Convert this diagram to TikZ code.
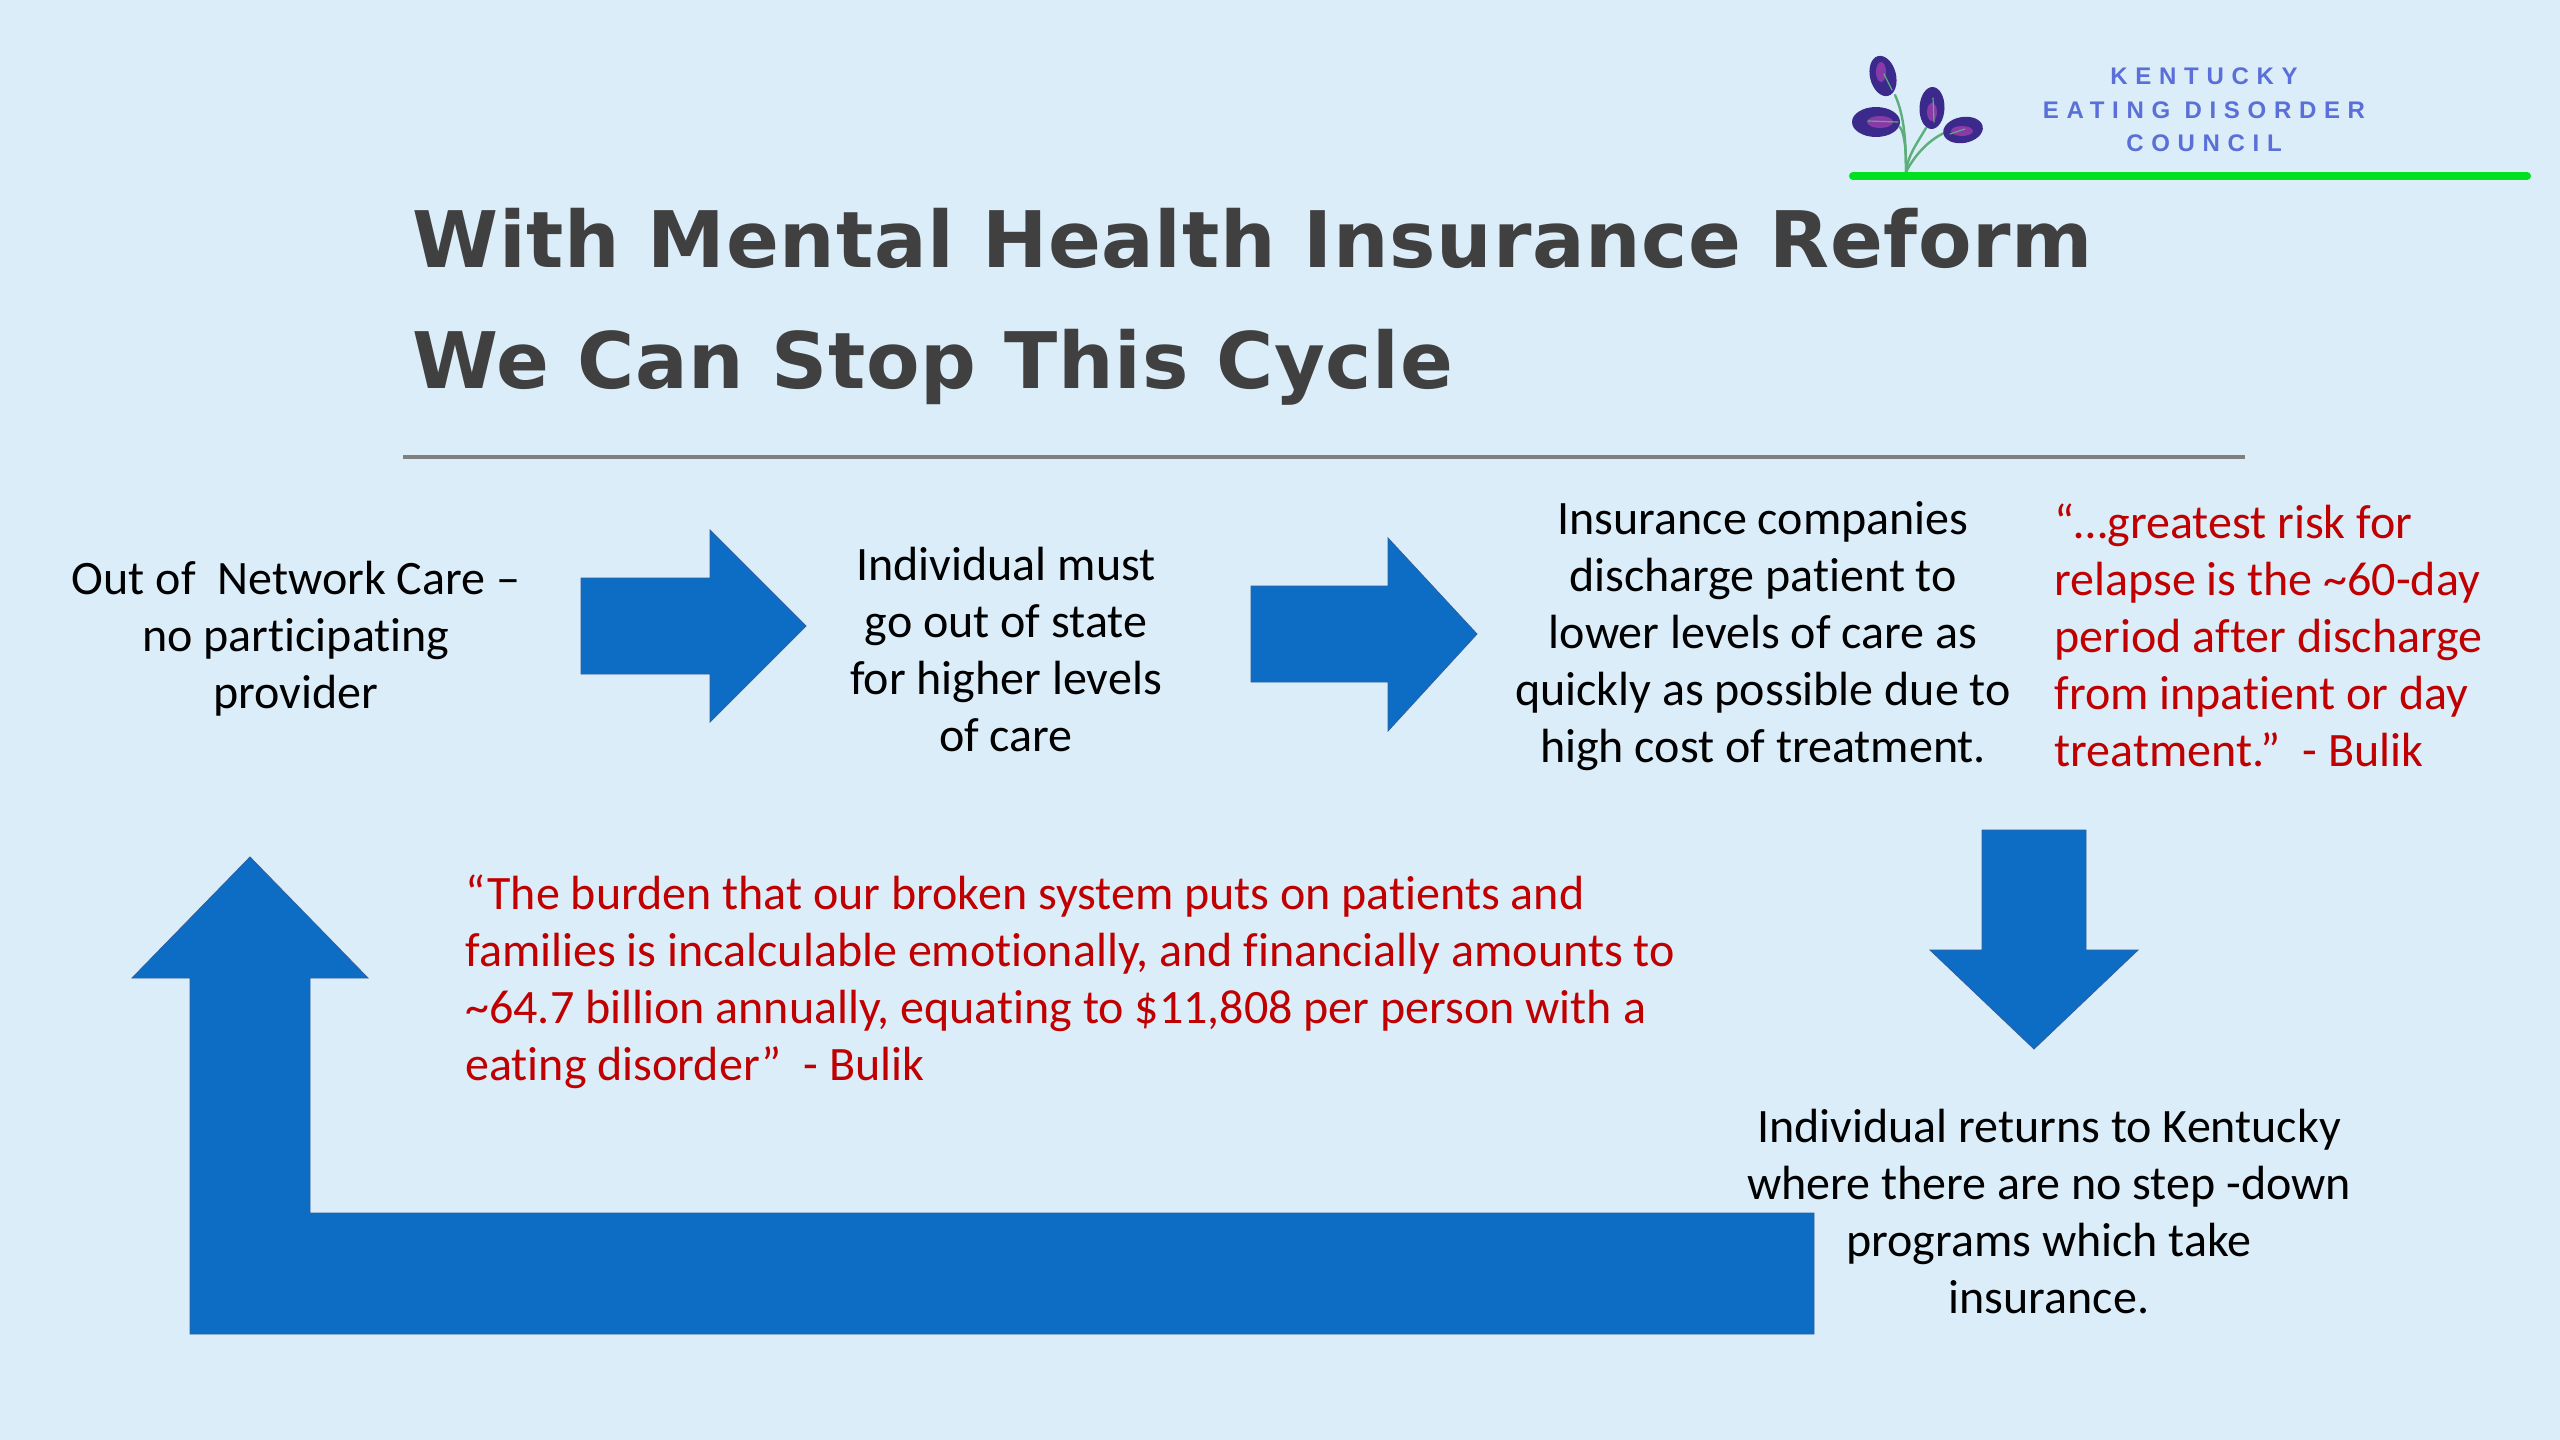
\documentclass[tikz,border=0pt]{standalone}
\usepackage{fontspec}
\setmainfont[Ligatures=NoCommon]{Carlito}
\newfontfamily\titlefont[LetterSpace=0.9]{DejaVu Sans}
\newfontfamily\logofont[LetterSpace=32]{Liberation Sans}
\definecolor{bgc}{HTML}{DBEDF8}
\definecolor{arrowc}{HTML}{0D6DC4}
\definecolor{arrowe}{HTML}{2F5F9E}
\definecolor{quotec}{HTML}{C00000}
\definecolor{titlec}{HTML}{404040}
\definecolor{rulec}{HTML}{7F7F7F}
\definecolor{logoc}{HTML}{5B6FD8}
\definecolor{leafc}{HTML}{3B2A8C}
\definecolor{leafm}{HTML}{8A3AA8}
\definecolor{stemc}{HTML}{5CAF7A}
\definecolor{groundc}{HTML}{00E020}
\tikzset{x=0.5pt,y=-0.5pt,
 bodytext/.style={align=center,font=\fontsize{24}{28.5}\selectfont,text=black,inner sep=0},
 quotetext/.style={align=left,font=\fontsize{24}{28.5}\selectfont,text=quotec,inner sep=0},
 titletext/.style={anchor=base west,font=\titlefont\bfseries\fontsize{39}{39}\selectfont,text=titlec,inner sep=0},
 logotext/.style={font=\logofont\bfseries\fontsize{12}{12}\selectfont,text=logoc,inner sep=0},
 blockarrow/.style={fill=arrowc,draw=arrowe,line width=0.4pt},
 leaf/.style={fill=leafc,draw=none},
 leafmark/.style={fill=leafm,draw=none},
 vein/.style={draw=stemc,line width=0.6pt,line cap=round},
 stem/.style={draw=stemc,line width=1.2pt,line cap=round}}
\begin{document}
\begin{tikzpicture}
\useasboundingbox (0,0) rectangle (2560,1440);
\fill[bgc] (0,0) rectangle (2560,1440);
% logo
\coordinate (root) at (1906,172);
\draw[stem] (root) .. controls (1906,140) and (1904,115) .. (1895,95);
\draw[stem] (root) .. controls (1906,150) and (1905,135) .. (1900,127);
\draw[stem] (root) .. controls (1908,155) and (1916,145) .. (1926,128);
\draw[stem] (root) .. controls (1912,160) and (1925,142) .. (1944,133);
\fill[leaf,rotate around={14:(1883,76)}] (1883,76) ellipse [x radius=13,y radius=20.5];
\fill[leaf,rotate around={-2:(1932,108)}] (1932,108) ellipse [x radius=12.5,y radius=21];
\fill[leaf] (1876,122) ellipse [x radius=24,y radius=15];
\fill[leaf,rotate around={10:(1963,130)}] (1963,130) ellipse [x radius=20,y radius=13];
\fill[leafmark] (1881,72) ellipse [x radius=5,y radius=10];
\fill[leafmark] (1932,112) ellipse [x radius=5,y radius=9];
\fill[leafmark] (1880,122) ellipse [x radius=13,y radius=6];
\fill[leafmark] (1962,131) ellipse [x radius=11,y radius=5];
\draw[vein] (1892,90) -- (1884,74);
\draw[vein] (1934,122) -- (1933,98);
\draw[vein] (1898,122) -- (1868,121);
\draw[vein] (1950,134) -- (1965,129);
\draw[groundc,line width=4pt,line cap=round] (1853,176) -- (2527,176);
\node[logotext] (logoa) at (2204,76) {KENTUCKY};
\node[logotext] (logob) at (2204,110) {EATING DISORDER};
\node[logotext] (logoc) at (2204,143) {COUNCIL};
% title
\node[titletext] (titlea) at (412,267) {With Mental Health Insurance Reform};
\node[titletext] (titleb) at (412,388) {We Can Stop This Cycle};
\draw[rulec,line width=2pt] (403,457) -- (2245,457);
% arrows
\fill[blockarrow] (581,578) -- (710,578) -- (710,530) -- (806,626) -- (710,722) -- (710,674) -- (581,674) -- cycle;
\fill[blockarrow] (1251,586) -- (1388,586) -- (1388,538) -- (1477,634) -- (1388,731) -- (1388,682) -- (1251,682) -- cycle;
\fill[blockarrow] (1982,830) -- (2086,830) -- (2086,950) -- (2138,950) -- (2034,1049) -- (1930,950) -- (1982,950) -- cycle;
\fill[blockarrow] (1814,1213) -- (310,1213) -- (310,978) -- (368,978) -- (250,857) -- (132,978) -- (190,978) -- (190,1334) -- (1814,1334) -- cycle;
% texts
\node[bodytext] (outnet) at (296,639) {Out of\ \ Network Care --\\no participating\\provider};
\node[bodytext] (goout) at (1006,650) {Individual must\\go out of state\\for higher levels\\of care};
\node[bodytext] (discharge) at (1763,636) {Insurance companies\\discharge patient to\\lower levels of care as\\quickly as possible due to\\high cost of treatment.};
\node[quotetext,anchor=west] (quotea) at (2054,635) {“…greatest risk for\\relapse is the \textasciitilde 60-day\\period after discharge\\from inpatient or day\\treatment.”\ \ - Bulik};
\node[quotetext,anchor=west] (quoteb) at (465,982) {“The burden that our broken system puts on patients and\\families is incalculable emotionally, and financially amounts to\\\textasciitilde 64.7 billion annually, equating to \$11,808 per person with a\\eating disorder”\ \ - Bulik};
\node[bodytext] (returns) at (2049,1212) {Individual returns to Kentucky\\where there are no step -down\\programs which take\\insurance.};
\end{tikzpicture}
\end{document}
